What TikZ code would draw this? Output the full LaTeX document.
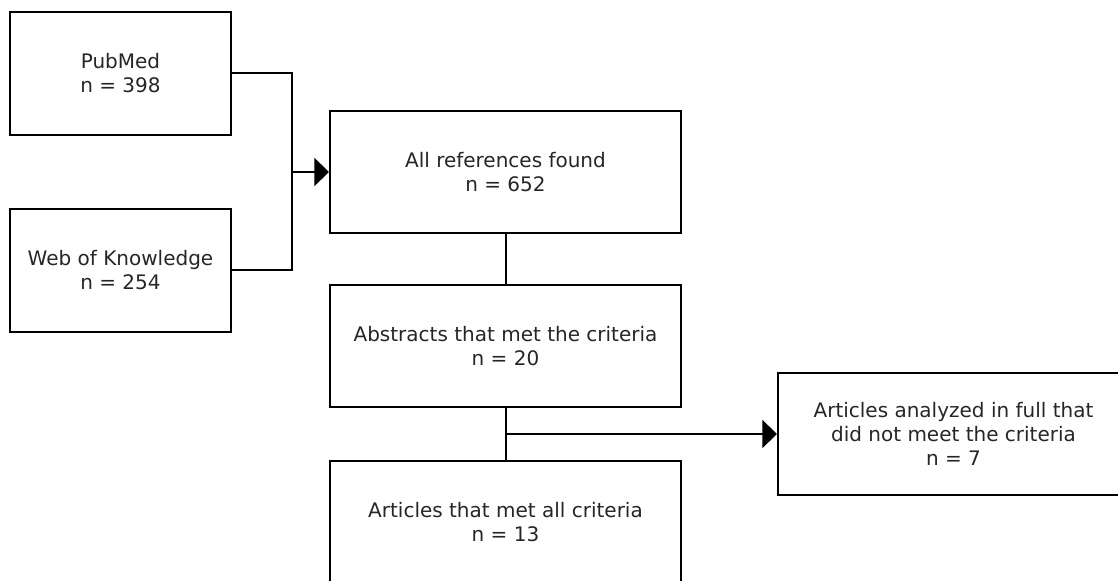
\documentclass[tikz,border=0pt]{standalone}
\usepackage{fontspec}
\setmainfont{DejaVu Sans}
\usetikzlibrary{arrows.meta, positioning, calc}

\begin{document}
\begin{tikzpicture}[
    node distance=37.5pt and 71.25pt,
    box/.style={rectangle, draw, line width=1.5pt, minimum height=91.5pt, align=center, text=black!85, font=\fontsize{15pt}{18pt}\selectfont},
    source/.style={box, minimum width=165.75pt, minimum height=92.25pt},
    stage/.style={box, minimum width=263.25pt},
    line/.style={line width=1.5pt},
    arrow/.style={line, -{Triangle[length=11pt, width=21pt]}}
]

% Page frame
\useasboundingbox (-90.375pt,55.125pt) rectangle (748.125pt,-380.625pt);

% Sources
\node[source] (pubmed) at (0,0) {PubMed\\n = 398};
\node[source, below=54pt of pubmed] (wok) {Web of Knowledge\\n = 254};
\coordinate (sources_mid) at ($(pubmed.east)!0.5!(wok.east)$);
\coordinate (join) at ($(sources_mid)+(45pt,0)$);

% Screening steps
\node[stage, right=72.75pt of sources_mid] (all_refs) {All references found\\n = 652};
\node[stage, below=of all_refs] (abstracts) {Abstracts that met the criteria\\n = 20};
\node[stage, below=39pt of abstracts] (included) {Articles that met all criteria\\n = 13};
\coordinate (split) at ($(abstracts.south)!0.5!(included.north)$);

% Excluded
\node[stage, right=of abstracts.east |- split, anchor=west] (excluded) {Articles analyzed in full that\\did not meet the criteria\\n = 7};

% Arrows
\draw[line] (pubmed.east) -| (join) |- (wok.east);
\draw[arrow] (join) -- (all_refs);
\draw[line] (all_refs) -- (abstracts);
\draw[line] (abstracts) -- (included);
\draw[arrow] (split) -- (excluded);

\end{tikzpicture}
\end{document}
